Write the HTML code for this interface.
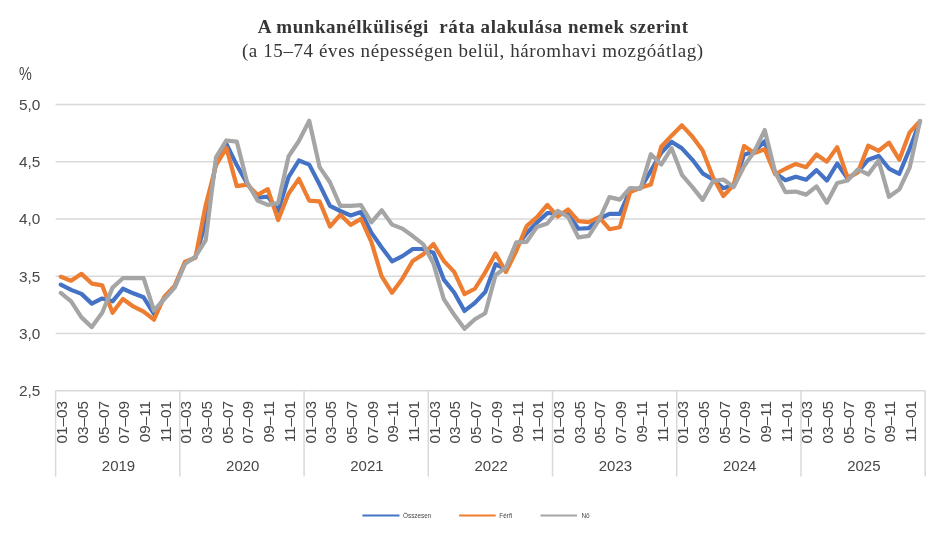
<!DOCTYPE html>
<html lang="hu"><head><meta charset="utf-8"><title>A munkanélküliségi ráta alakulása nemek szerint</title>
<style>
html,body{margin:0;padding:0;background:#fff;}
svg{display:block;}
.s{font-family:"Liberation Sans",sans-serif;fill:#474747;}
.t{font-family:"Liberation Serif",serif;fill:#363636;}
</style></head><body>
<svg width="946" height="538" viewBox="0 0 946 538">
<rect width="946" height="538" fill="#fff"/>
<text class="t" x="472.9" y="32.8" text-anchor="middle" font-size="19" font-weight="bold" textLength="430.3" lengthAdjust="spacing" xml:space="preserve">A munkanélküliségi  ráta alakulása nemek szerint</text>
<text class="t" x="472.5" y="56.5" text-anchor="middle" font-size="19" textLength="461.2" lengthAdjust="spacing">(a 15–74 éves népességen belül, háromhavi mozgóátlag)</text>
<g stroke="#d9d9d9" stroke-width="1.5" fill="none">
<line x1="55.6" x2="925.2" y1="104.40" y2="104.40"/>
<line x1="55.6" x2="925.2" y1="161.65" y2="161.65"/>
<line x1="55.6" x2="925.2" y1="218.90" y2="218.90"/>
<line x1="55.6" x2="925.2" y1="276.15" y2="276.15"/>
<line x1="55.6" x2="925.2" y1="333.40" y2="333.40"/>
<line x1="55.6" x2="925.2" y1="390.65" y2="390.65"/>
<line x1="55.60" x2="55.60" y1="390.65" y2="476.6"/>
<line x1="179.83" x2="179.83" y1="390.65" y2="476.6"/>
<line x1="304.06" x2="304.06" y1="390.65" y2="476.6"/>
<line x1="428.29" x2="428.29" y1="390.65" y2="476.6"/>
<line x1="552.51" x2="552.51" y1="390.65" y2="476.6"/>
<line x1="676.74" x2="676.74" y1="390.65" y2="476.6"/>
<line x1="800.97" x2="800.97" y1="390.65" y2="476.6"/>
<line x1="925.20" x2="925.20" y1="390.65" y2="476.6"/>
</g>
<g class="s" font-size="15.4">
<text transform="translate(19,80) scale(0.8,1)" font-size="18">%</text>
<text x="19" y="109.80">5,0</text>
<text x="19" y="167.05">4,5</text>
<text x="19" y="224.30">4,0</text>
<text x="19" y="281.55">3,5</text>
<text x="19" y="338.80">3,0</text>
<text x="19" y="396.05">2,5</text>
</g>
<g class="s" font-size="15.3" text-anchor="end">
<text transform="translate(67.10,400.9) rotate(-90)">01–03</text>
<text transform="translate(87.80,400.9) rotate(-90)">03–05</text>
<text transform="translate(108.51,400.9) rotate(-90)">05–07</text>
<text transform="translate(129.21,400.9) rotate(-90)">07–09</text>
<text transform="translate(149.92,400.9) rotate(-90)">09–11</text>
<text transform="translate(170.62,400.9) rotate(-90)">11–01</text>
<text transform="translate(191.33,400.9) rotate(-90)">01–03</text>
<text transform="translate(212.03,400.9) rotate(-90)">03–05</text>
<text transform="translate(232.74,400.9) rotate(-90)">05–07</text>
<text transform="translate(253.44,400.9) rotate(-90)">07–09</text>
<text transform="translate(274.15,400.9) rotate(-90)">09–11</text>
<text transform="translate(294.85,400.9) rotate(-90)">11–01</text>
<text transform="translate(315.56,400.9) rotate(-90)">01–03</text>
<text transform="translate(336.26,400.9) rotate(-90)">03–05</text>
<text transform="translate(356.97,400.9) rotate(-90)">05–07</text>
<text transform="translate(377.67,400.9) rotate(-90)">07–09</text>
<text transform="translate(398.38,400.9) rotate(-90)">09–11</text>
<text transform="translate(419.08,400.9) rotate(-90)">11–01</text>
<text transform="translate(439.79,400.9) rotate(-90)">01–03</text>
<text transform="translate(460.49,400.9) rotate(-90)">03–05</text>
<text transform="translate(481.20,400.9) rotate(-90)">05–07</text>
<text transform="translate(501.90,400.9) rotate(-90)">07–09</text>
<text transform="translate(522.60,400.9) rotate(-90)">09–11</text>
<text transform="translate(543.31,400.9) rotate(-90)">11–01</text>
<text transform="translate(564.01,400.9) rotate(-90)">01–03</text>
<text transform="translate(584.72,400.9) rotate(-90)">03–05</text>
<text transform="translate(605.42,400.9) rotate(-90)">05–07</text>
<text transform="translate(626.13,400.9) rotate(-90)">07–09</text>
<text transform="translate(646.83,400.9) rotate(-90)">09–11</text>
<text transform="translate(667.54,400.9) rotate(-90)">11–01</text>
<text transform="translate(688.24,400.9) rotate(-90)">01–03</text>
<text transform="translate(708.95,400.9) rotate(-90)">03–05</text>
<text transform="translate(729.65,400.9) rotate(-90)">05–07</text>
<text transform="translate(750.36,400.9) rotate(-90)">07–09</text>
<text transform="translate(771.06,400.9) rotate(-90)">09–11</text>
<text transform="translate(791.77,400.9) rotate(-90)">11–01</text>
<text transform="translate(812.47,400.9) rotate(-90)">01–03</text>
<text transform="translate(833.18,400.9) rotate(-90)">03–05</text>
<text transform="translate(853.88,400.9) rotate(-90)">05–07</text>
<text transform="translate(874.59,400.9) rotate(-90)">07–09</text>
<text transform="translate(895.29,400.9) rotate(-90)">09–11</text>
<text transform="translate(916.00,400.9) rotate(-90)">11–01</text>
</g>
<g class="s" font-size="15" text-anchor="middle">
<text x="118.51" y="470.5">2019</text>
<text x="242.74" y="470.5">2020</text>
<text x="366.97" y="470.5">2021</text>
<text x="491.20" y="470.5">2022</text>
<text x="615.43" y="470.5">2023</text>
<text x="739.66" y="470.5">2024</text>
<text x="863.89" y="470.5">2025</text>
</g>
<g fill="none" stroke-width="4.2" stroke-linejoin="round" stroke-linecap="round">
<path stroke="#4472c4" d="M60.78,284.62 L71.13,289.89 L81.48,293.90 L91.83,303.63 L102.19,298.48 L112.54,301.34 L122.89,288.75 L133.24,293.32 L143.60,297.33 L153.95,313.94 L164.30,297.90 L174.65,286.68 L185.00,262.98 L195.36,257.26 L205.71,222.33 L216.06,161.65 L226.41,143.90 L236.77,165.09 L247.12,183.41 L257.47,197.72 L267.82,196.57 L278.18,210.88 L288.53,177.11 L298.88,160.51 L309.23,164.63 L319.59,184.55 L329.94,205.85 L340.29,211.00 L350.64,215.46 L361.00,212.03 L371.35,232.64 L381.70,247.53 L392.05,261.26 L402.40,256.11 L412.76,249.01 L423.11,249.01 L433.46,252.68 L443.81,279.58 L454.17,292.52 L464.52,310.96 L474.87,302.83 L485.22,291.95 L495.58,264.13 L505.93,269.28 L516.28,246.95 L526.63,233.21 L536.99,222.33 L547.34,213.18 L557.69,213.18 L568.04,214.32 L578.40,228.75 L588.75,228.06 L599.10,218.90 L609.45,213.86 L619.80,213.86 L630.16,190.28 L640.51,188.21 L650.86,170.81 L661.21,152.72 L671.57,141.84 L681.92,148.37 L692.27,159.59 L702.62,173.33 L712.98,179.51 L723.33,188.21 L733.68,185.12 L744.03,154.78 L754.39,151.35 L764.74,141.27 L775.09,173.10 L785.44,180.20 L795.80,176.76 L806.15,179.74 L816.50,170.12 L826.85,180.54 L837.20,163.48 L847.56,178.60 L857.91,171.95 L868.26,159.70 L878.61,155.93 L888.97,168.52 L899.32,173.79 L909.67,149.05 L920.02,121.12"/>
<path stroke="#ed7d31" d="M60.78,276.84 L71.13,280.73 L81.48,273.86 L91.83,283.59 L102.19,285.31 L112.54,312.79 L122.89,299.05 L133.24,306.49 L143.60,311.64 L153.95,319.66 L164.30,296.76 L174.65,285.88 L185.00,261.61 L195.36,257.83 L205.71,205.16 L216.06,165.09 L226.41,147.91 L236.77,186.15 L247.12,184.55 L257.47,194.86 L267.82,189.13 L278.18,220.04 L288.53,193.71 L298.88,178.83 L309.23,200.58 L319.59,201.38 L329.94,226.57 L340.29,214.78 L350.64,224.85 L361.00,218.90 L371.35,241.80 L381.70,276.49 L392.05,292.75 L402.40,278.67 L412.76,260.92 L423.11,254.40 L433.46,244.09 L443.81,260.92 L454.17,271.91 L464.52,294.13 L474.87,288.75 L485.22,272.37 L495.58,253.48 L505.93,271.91 L516.28,250.96 L526.63,226.11 L536.99,217.18 L547.34,204.93 L557.69,216.61 L568.04,209.40 L578.40,221.19 L588.75,222.11 L599.10,217.18 L609.45,229.20 L619.80,227.26 L630.16,191.99 L640.51,187.76 L650.86,184.55 L661.21,146.77 L671.57,135.66 L681.92,125.35 L692.27,136.46 L702.62,150.54 L712.98,177.22 L723.33,196.00 L733.68,185.12 L744.03,145.96 L754.39,153.06 L764.74,149.28 L775.09,174.25 L785.44,168.75 L795.80,163.94 L806.15,167.15 L816.50,154.55 L826.85,161.65 L837.20,147.11 L847.56,177.68 L857.91,172.30 L868.26,145.62 L878.61,150.77 L888.97,142.64 L899.32,159.70 L909.67,132.34 L920.02,121.12"/>
<path stroke="#a5a5a5" d="M60.78,292.87 L71.13,301.34 L81.48,317.37 L91.83,327.10 L102.19,312.79 L112.54,287.60 L122.89,278.21 L133.24,278.21 L143.60,278.21 L153.95,310.50 L164.30,299.05 L174.65,287.60 L185.00,263.90 L195.36,256.69 L205.71,240.08 L216.06,157.07 L226.41,140.47 L236.77,141.61 L247.12,182.26 L257.47,200.58 L267.82,204.93 L278.18,202.87 L288.53,156.50 L298.88,141.04 L309.23,120.77 L319.59,167.15 L329.94,182.26 L340.29,205.85 L350.64,205.85 L361.00,205.16 L371.35,222.33 L381.70,210.31 L392.05,224.62 L402.40,228.63 L412.76,236.07 L423.11,244.09 L433.46,263.56 L443.81,299.05 L454.17,314.74 L464.52,328.82 L474.87,319.20 L485.22,313.25 L495.58,275.00 L505.93,267.56 L516.28,242.37 L526.63,241.80 L536.99,226.91 L547.34,223.48 L557.69,210.88 L568.04,216.84 L578.40,237.45 L588.75,235.85 L599.10,219.82 L609.45,197.14 L619.80,199.66 L630.16,187.99 L640.51,188.56 L650.86,154.21 L661.21,164.51 L671.57,148.14 L681.92,174.82 L692.27,186.84 L702.62,199.89 L712.98,181.12 L723.33,179.51 L733.68,187.07 L744.03,166.23 L754.39,151.35 L764.74,130.05 L775.09,171.95 L785.44,192.11 L795.80,191.53 L806.15,194.63 L816.50,186.38 L826.85,202.76 L837.20,182.95 L847.56,180.54 L857.91,169.32 L868.26,174.47 L878.61,160.51 L888.97,196.80 L899.32,189.36 L909.67,167.49 L920.02,121.12"/>
</g>
<g stroke-width="2" fill="none"><line x1="362.4" x2="399.5" y1="515.6" y2="515.6" stroke="#4472c4"/><line x1="459.1" x2="495.7" y1="515.6" y2="515.6" stroke="#ed7d31"/><line x1="540.5" x2="577" y1="515.6" y2="515.6" stroke="#a5a5a5"/></g>
<g class="s" font-size="6.4"><text x="403" y="518">Összesen</text><text x="499.3" y="518">Férfi</text><text x="581.4" y="518">Nő</text></g>
</svg></body></html>
